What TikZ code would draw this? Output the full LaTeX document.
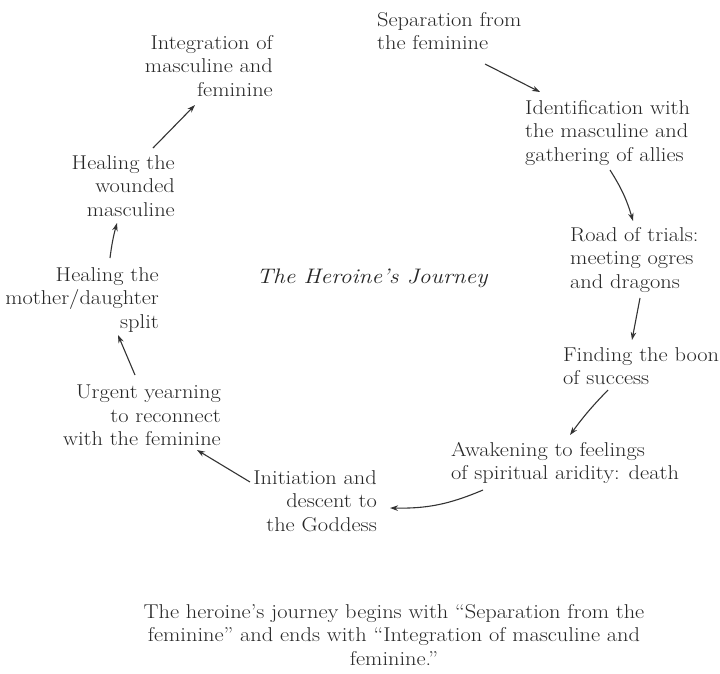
\documentclass[tikz,border=0pt]{standalone}
\usepackage{fontspec}
\setmainfont{Latin Modern Roman}[FakeStretch=1.12]
\usetikzlibrary{arrows.meta}
\begin{document}
\begin{tikzpicture}[x=1pt,y=-1pt,
  txt/.style={inner sep=0pt, text=black!85, font=\fontsize{20}{23.5}\selectfont},
  lft/.style={txt, align=left, anchor=north west},
  rgt/.style={txt, align=right, anchor=north east},
  arr/.style={draw=black!80, line width=1.1pt, -{Stealth[length=8pt,width=5.5pt]}}]
\useasboundingbox[fill=white] (0,0) rectangle (720,673);

\node[lft] (sep) at (377,12) {Separation from\\the feminine};
\node[lft] (ident) at (525,100) {Identification with\\the masculine and\\gathering of allies};
\node[lft] (road) at (570,227) {Road of trials:\\meeting ogres\\and dragons};
\node[lft] (boon) at (563,347) {Finding the boon\\of success};
\node[lft] (awak) at (451,442) {Awakening to feelings\\of spiritual aridity: death};
\node[rgt] (init) at (377,470) {Initiation and\\descent to\\the Goddess};
\node[rgt] (urge) at (221,385) {Urgent yearning\\to reconnect\\with the feminine};
\node[rgt] (heal1) at (159,267) {Healing the\\mother/daughter\\split};
\node[rgt] (heal2) at (175,155) {Healing the\\wounded\\masculine};
\node[rgt] (integ) at (273,35) {Integration of\\masculine and\\feminine};
\node[txt, anchor=center, font=\fontsize{21}{25}\selectfont\itshape] (title) at (372,278) {The Heroine's Journey};
\node[txt, align=center, anchor=north] (cap) at (394,604)
  {The heroine's journey begins with ``Separation from the\\feminine'' and ends with ``Integration of masculine and\\feminine.''};

\coordinate (a1s) at (485,64);  \coordinate (a1e) at (540,92);
\coordinate (a2s) at (610,170); \coordinate (a2e) at (633,221);
\coordinate (a3s) at (640,298); \coordinate (a3e) at (632,340);
\coordinate (a4s) at (608,390); \coordinate (a4e) at (570,435);
\coordinate (a5s) at (483,490); \coordinate (a5e) at (390,508);
\coordinate (a6s) at (250,482); \coordinate (a6e) at (197,450);
\coordinate (a7s) at (135,375); \coordinate (a7e) at (118,335);
\coordinate (a8s) at (110,258); \coordinate (a8e) at (117,223);
\coordinate (a9s) at (153,148); \coordinate (a9e) at (195,105);

\draw[arr] (a1s) -- (a1e);
\draw[arr] (a2s) to[bend left=8] (a2e);
\draw[arr] (a3s) -- (a3e);
\draw[arr] (a4s) to[bend right=4] (a4e);
\draw[arr] (a5s) to[bend left=12] (a5e);
\draw[arr] (a6s) -- (a6e);
\draw[arr] (a7s) -- (a7e);
\draw[arr] (a8s) to[bend left=4] (a8e);
\draw[arr] (a9s) -- (a9e);
\end{tikzpicture}
\end{document}
